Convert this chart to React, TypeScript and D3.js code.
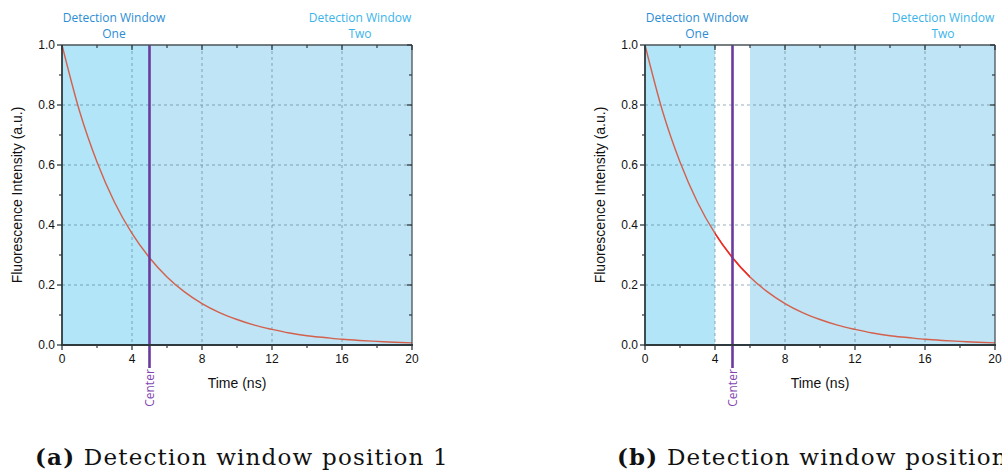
import React from 'react';
import * as d3 from 'd3';

const timeNs = [0, 1, 2, 3, 4, 5, 6, 7, 8, 9, 10, 11, 12, 13, 14, 15, 16, 17, 18, 19, 20];
const intensity = [1.0, 0.78, 0.61, 0.476, 0.372, 0.291, 0.227, 0.177, 0.138, 0.108, 0.085, 0.066, 0.052, 0.040, 0.031, 0.025, 0.019, 0.015, 0.012, 0.009, 0.007];
const xTicksMajor = [0, 4, 8, 12, 16, 20];
const xTicksMinor = [2, 6, 10, 14, 18];
const xGrid = [4, 8, 12, 16];
const yTicksMajor = [0, 0.2, 0.4, 0.6, 0.8, 1.0];
const yTicksMinor = [0.1, 0.3, 0.5, 0.7, 0.9];
const yGrid = [0.2, 0.4, 0.6, 0.8];
const centerTime = 5;
const panelAWindowOne = [0, 5];
const panelAWindowTwo = [5, 20];
const panelBWindowOne = [0, 4];
const panelBWindowTwo = [6, 20];
const captionLabels = ['(a)', '(b)'];
const captionTexts = ['Detection window position 1', 'Detection window position 2'];

const W = 350;
const H = 300;
const TOP = 45;
const SANS = '"Liberation Sans", Arial, sans-serif';
const TITLE_FONT = '"Open Sans", sans-serif';

type PanelProps = {
  x0: number;
  winOne: number[];
  winTwo: number[];
  gap: boolean;
  label: string;
  caption: string;
  captionX: number;
  id: string;
};

function Panel({ x0, winOne, winTwo, gap, label, caption, captionX, id }: PanelProps) {
  const x = d3.scaleLinear().domain([0, 20]).range([x0, x0 + W]);
  const y = d3.scaleLinear().domain([0, 1]).range([TOP + H, TOP]);
  const pts = timeNs.map((t, i) => [t, intensity[i]] as [number, number]);
  const line = d3
    .line<[number, number]>()
    .x((d) => x(d[0]))
    .y((d) => y(d[1]))
    .curve(d3.curveMonotoneX);
  const path = line(pts) || '';
  const axisColor = '#2f3a3e';
  const gridColor = 'rgba(70,110,130,0.55)';
  return (
    <g>
      <defs>
        <clipPath id={`gap-${id}`}>
          <rect x={x(winOne[1])} y={TOP - 2} width={x(winTwo[0]) - x(winOne[1])} height={H + 4} />
        </clipPath>
      </defs>
      <rect x={x(winOne[0])} y={TOP} width={x(winOne[1]) - x(winOne[0])} height={H} fill="#b2e5f8" />
      <rect x={x(winTwo[0])} y={TOP} width={x(winTwo[1]) - x(winTwo[0])} height={H} fill="#bee4f5" />
      {xGrid.map((t) => (
        <line key={`gx${t}`} x1={x(t)} x2={x(t)} y1={TOP} y2={TOP + H} stroke={gridColor} strokeWidth={1} strokeDasharray="3,3" />
      ))}
      {yGrid.map((v) => (
        <line key={`gy${v}`} x1={x0} x2={x0 + W} y1={y(v)} y2={y(v)} stroke={gridColor} strokeWidth={1} strokeDasharray="3,3" />
      ))}
      <path d={path} fill="none" stroke="#d4604c" strokeWidth={1.4} />
      {gap && <path d={path} fill="none" stroke="#ee2a24" strokeWidth={1.5} clipPath={`url(#gap-${id})`} />}
      <line x1={x(centerTime)} x2={x(centerTime)} y1={TOP} y2={TOP + H + 23} stroke="#6b3a9e" strokeWidth={2.6} />
      <text
        transform={`translate(${x(centerTime) + 4},${TOP + H + 43}) rotate(-90)`}
        textAnchor="middle"
        fontFamily={TITLE_FONT}
        fontSize={12}
        fill="#7f45b0"
      >
        Center
      </text>
      {/* frame */}
      <line x1={x0} x2={x0 + W} y1={TOP} y2={TOP} stroke="#4a5458" strokeWidth={1.3} />
      <line x1={x0 + W} x2={x0 + W} y1={TOP} y2={TOP + H} stroke="#4a5458" strokeWidth={1.3} />
      <line x1={x0} x2={x0} y1={TOP} y2={TOP + H + 1} stroke={axisColor} strokeWidth={1.8} />
      <line x1={x0 - 1} x2={x0 + W + 1} y1={TOP + H} y2={TOP + H} stroke={axisColor} strokeWidth={1.8} />
      {/* x ticks */}
      {xTicksMajor.map((t) => (
        <g key={`xt${t}`}>
          <line x1={x(t)} x2={x(t)} y1={TOP + H} y2={TOP + H + 5} stroke={axisColor} strokeWidth={1.3} />
          <line x1={x(t)} x2={x(t)} y1={TOP} y2={TOP + 5} stroke={axisColor} strokeWidth={1.3} />
          <text x={x(t)} y={TOP + H + 18} textAnchor="middle" fontFamily={SANS} fontSize={12} fill="#111">
            {t}
          </text>
        </g>
      ))}
      {xTicksMinor.map((t) => (
        <g key={`xm${t}`}>
          <line x1={x(t)} x2={x(t)} y1={TOP + H} y2={TOP + H + 3} stroke={axisColor} strokeWidth={1.2} />
          <line x1={x(t)} x2={x(t)} y1={TOP} y2={TOP + 3} stroke={axisColor} strokeWidth={1.2} />
        </g>
      ))}
      {/* y ticks */}
      {yTicksMajor.map((v) => (
        <g key={`yt${v}`}>
          <line x1={x0 - 5} x2={x0} y1={y(v)} y2={y(v)} stroke={axisColor} strokeWidth={1.3} />
          <line x1={x0 + W - 5} x2={x0 + W} y1={y(v)} y2={y(v)} stroke={axisColor} strokeWidth={1.3} />
          <text x={x0 - 7} y={y(v) + 4} textAnchor="end" fontFamily={SANS} fontSize={12} fill="#111">
            {v.toFixed(1)}
          </text>
        </g>
      ))}
      {yTicksMinor.map((v) => (
        <g key={`ym${v}`}>
          <line x1={x0 - 3} x2={x0} y1={y(v)} y2={y(v)} stroke={axisColor} strokeWidth={1.2} />
          <line x1={x0 + W - 3} x2={x0 + W} y1={y(v)} y2={y(v)} stroke={axisColor} strokeWidth={1.2} />
        </g>
      ))}
      {/* axis titles */}
      <text x={x(10)} y={TOP + H + 43} textAnchor="middle" fontFamily={SANS} fontSize={14} fill="#111">
        Time (ns)
      </text>
      <text
        transform={`translate(${x0 - 40},${TOP + H / 2}) rotate(-90)`}
        textAnchor="middle"
        fontFamily={SANS}
        fontSize={14}
        fill="#111"
      >
        Fluorescence Intensity (a.u.)
      </text>
      {/* window titles */}
      <text x={x0 + 52} y={22} textAnchor="middle" fontFamily={TITLE_FONT} fontSize={12} fill="#2c8dd4">
        <tspan x={x0 + 52}>Detection Window</tspan>
        <tspan x={x0 + 52} dy={16}>One</tspan>
      </text>
      <text x={x0 + W - 52} y={22} textAnchor="middle" fontFamily={TITLE_FONT} fontSize={12} fill="#3ab4ea">
        <tspan x={x0 + W - 52}>Detection Window</tspan>
        <tspan x={x0 + W - 52} dy={16}>Two</tspan>
      </text>
      {/* caption */}
      <text x={captionX} y={465} fontFamily='"DejaVu Serif", serif' fontSize={23} letterSpacing={1.2} fill="#111">
        <tspan fontWeight="bold">{label}</tspan>
        <tspan> {caption}</tspan>
      </text>
    </g>
  );
}

export default function App() {
  return (
    <svg width={1002} height={470} style={{ position: 'absolute', left: 0, top: 0, background: '#fff' }}>
      <rect x={0} y={0} width={1002} height={470} fill="#fff" />
      <Panel x0={62} winOne={panelAWindowOne} winTwo={panelAWindowTwo} gap={false} label={captionLabels[0]} caption={captionTexts[0]} captionX={35} id="a" />
      <Panel x0={645} winOne={panelBWindowOne} winTwo={panelBWindowTwo} gap={true} label={captionLabels[1]} caption={captionTexts[1]} captionX={617} id="b" />
    </svg>
  );
}
